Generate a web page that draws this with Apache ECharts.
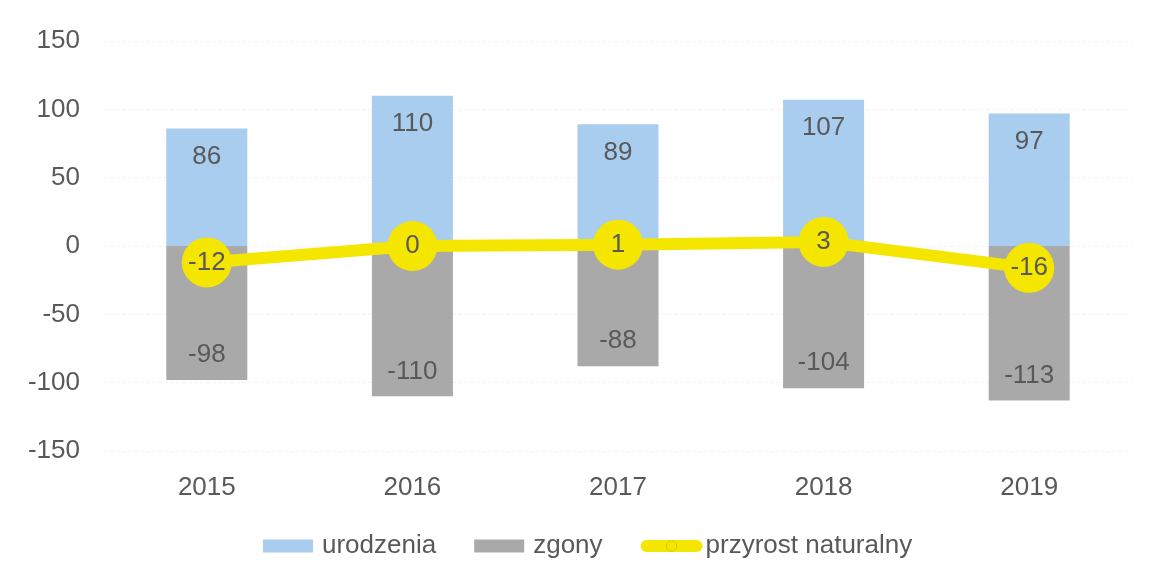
<!DOCTYPE html>
<html>
<head>
<meta charset="utf-8">
<script src="https://cdn.jsdelivr.net/npm/echarts@6/dist/echarts.min.js"></script>
<style>
	html, body { margin: 0; padding: 0; background: #fff; }
	#chart { width: 1149px; height: 576px; }
</style>
</head>
<body>
<div id="chart"></div>
<script>
const years = ["2015", "2016", "2017", "2018", "2019"];
const urodzenia = [86, 110, 89, 107, 97];
const zgony = [-98, -110, -88, -104, -113];
const przyrost = [-12, 0, 1, 3, -16];

const textColor = "#595959";
const font = "Liberation Sans";
const yellow = "#f5e600";

let myChart = echarts.init(document.getElementById("chart"));
let option = {
	animation: false,
	textStyle: { fontFamily: font },
	grid: {
		top: 41,
		bottom: 125,
		left: 104,
		right: 17
	},
	legend: {
		top: 528,
		left: 258,
		itemGap: 38,
		itemWidth: 50,
		itemHeight: 13,
		textStyle: { fontSize: 26, color: textColor, fontFamily: font, padding: [0, 0, 0, 4] },
		data: [
			{ name: "urodzenia", icon: "rect" },
			{ name: "zgony", icon: "rect" },
			{
				name: "przyrost naturalny",
				itemStyle: { color: yellow, borderColor: "#d8c800", borderWidth: 1 },
				lineStyle: { color: yellow, width: 12, cap: "round" }
			}
		]
	},
	xAxis: {
		type: "category",
		data: years,
		axisLine: { show: false },
		axisTick: { show: false },
		axisLabel: { fontSize: 26, color: textColor, margin: 24 }
	},
	yAxis: {
		type: "value",
		min: -150,
		max: 150,
		interval: 50,
		axisLine: { show: false },
		axisTick: { show: false },
		splitLine: { lineStyle: { color: "#f4f4f4", type: "dashed" } },
		axisLabel: { fontSize: 26, color: textColor, margin: 24 }
	},
	series: [
		{
			name: "urodzenia",
			type: "bar",
			stack: "a",
			barWidth: 81,
			data: urodzenia,
			itemStyle: { color: "#a9cdee" },
			label: {
				show: true,
				position: "insideTop",
				distance: 15,
				fontSize: 26,
				color: textColor
			}
		},
		{
			name: "zgony",
			type: "bar",
			stack: "a",
			barWidth: 81,
			data: zgony,
			itemStyle: { color: "#a9a9a9" },
			label: {
				show: true,
				position: "insideBottom",
				distance: 12,
				fontSize: 26,
				color: textColor
			}
		},
		{
			name: "przyrost naturalny",
			type: "line",
			data: przyrost,
			symbol: "circle",
			symbolSize: 50,
			lineStyle: { color: yellow, width: 12 },
			itemStyle: { color: yellow },
			z: 5,
			label: {
				show: true,
				position: "inside",
				fontSize: 26,
				color: textColor
			}
		}
	]
};
myChart.setOption(option);
</script>
</body>
</html>
